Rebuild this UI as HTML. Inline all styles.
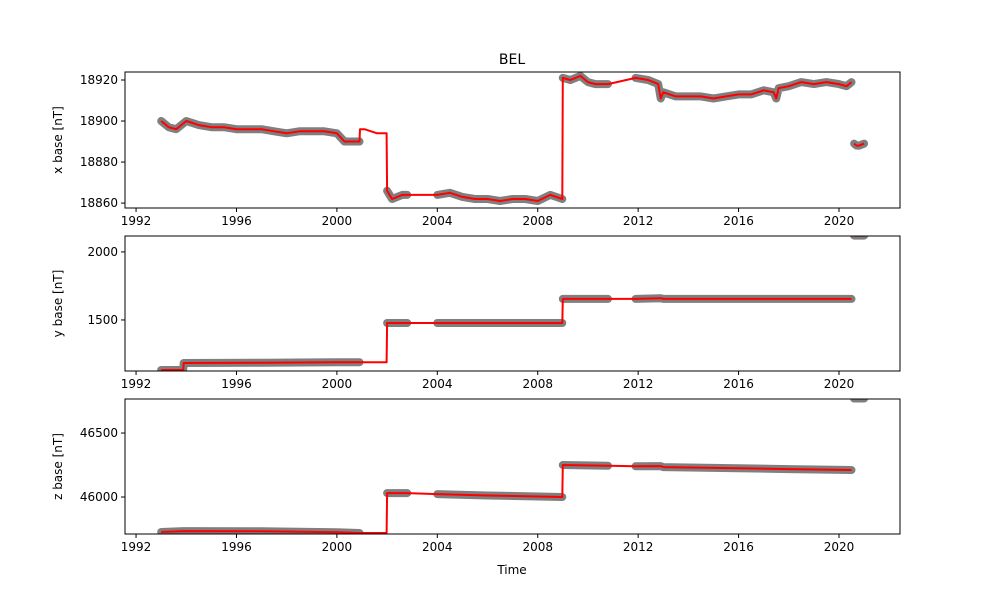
<!DOCTYPE html>
<html><head><meta charset="utf-8">
<style>
body{margin:0;background:#fff;}
svg{display:block;font-family:"DejaVu Sans","Liberation Sans",sans-serif;}
</style></head>
<body>
<svg id="fig" width="1000" height="600" viewBox="0 0 1000 600" xmlns="http://www.w3.org/2000/svg">
<rect width="1000" height="600" fill="#fff"/>
<text x="512" y="64" font-size="14" text-anchor="middle">BEL</text>
<text x="512" y="574" font-size="12" text-anchor="middle">Time</text>
</svg>
<script>
// shared x axis
const xTicks = [1992, 1996, 2000, 2004, 2008, 2012, 2016, 2020];
// Panel 1: x base
const xYears = [1993.0,1993.3,1993.6,1994.0,1994.5,1995.0,1995.5,1996.0,1996.5,1997.0,1997.5,1998.0,1998.5,1999.0,1999.5,2000.0,2000.3,2000.9,
  2000.92,2001.1,2001.6,2001.98,
  2002.0,2002.2,2002.6,2002.8,
  2004.0,2004.5,2005.0,2005.5,2006.0,2006.5,2007.0,2007.5,2008.0,2008.5,2008.98,
  2009.0,2009.3,2009.7,2010.0,2010.3,2010.8,
  2011.9,2012.4,2012.8,2012.9,2013.0,2013.5,2014.0,2014.5,2015.0,2015.5,2016.0,2016.5,2017.0,2017.4,2017.5,2017.6,2018.0,2018.5,2019.0,2019.5,2020.0,2020.3,2020.5,
  2020.6,2020.7,2020.8,2021.0];
const xVals = [18900,18897,18896,18900,18898,18897,18897,18896,18896,18896,18895,18894,18895,18895,18895,18894,18890,18890,
  18896,18896,18894,18894,
  18866,18862,18864,18864,
  18864,18865,18863,18862,18862,18861,18862,18862,18861,18864,18862,
  18921,18920,18922,18919,18918,18918,
  18921,18920,18918,18911,18914,18912,18912,18912,18911,18912,18913,18913,18915,18914,18911,18916,18917,18919,18918,18919,18918,18917,18919,
  18889,18888,18888,18889];
const xGray = [1,1,1,1,1,1,1,1,1,1,1,1,1,1,1,1,1,1, 0,0,0,0, 2,2,2,2, 3,3,3,3,3,3,3,3,3,3,3, 4,4,4,4,4,4,
  5,5,5,5,5,5,5,5,5,5,5,5,5,5,5,5,5,5,5,5,5,5,5, 6,6,6,6];
const xRed = [1,1,1,1,1,1,1,1,1,1,1,1,1,1,1,1,1,1, 1,1,1,1, 1,1,1,1, 1,1,1,1,1,1,1,1,1,1,1, 1,1,1,1,1,1,
  1,1,1,1,1,1,1,1,1,1,1,1,1,1,1,1,1,1,1,1,1,1,1, 2,2,2,2];
const xTickVals = [18860, 18880, 18900, 18920];
// Panel 2: y base
const yYears = [1993.0,1993.88,1993.9,1997.0,2000.0,2000.9,2001.98,2002.0,2002.8,2004.0,2008.98,2009.0,2010.8,2011.9,2012.9,2013.0,2020.5,2020.6,2021.0];
const yVals  = [1132,1132,1184,1186,1190,1190,1190,1478,1478,1478,1478,1655,1655,1655,1660,1655,1655,2120,2120];
const yGray  = [1,1,1,1,1,1,0,2,2,3,3,4,4,5,5,5,5,6,6];
const yRed   = [1,1,1,1,1,1,1,1,1,1,1,1,1,1,1,1,1,2,2];
const yTickVals = [1500, 2000];
// Panel 3: z base
const zYears = [1993.0,1993.9,1997.0,2000.0,2000.9,2001.98,2002.0,2002.8,2004.0,2006.0,2008.98,2009.0,2010.8,2011.9,2012.9,2013.0,2016.0,2018.0,2020.5,2020.6,2021.0];
const zVals  = [45727,45734,45732,45725,45719,45719,46031,46031,46023,46012,46000,46250,46245,46240,46242,46234,46225,46218,46211,46770,46770];
const zGray  = [1,1,1,1,1,0,2,2,3,3,3,4,4,5,5,5,5,5,5,6,6];
const zRed   = [1,1,1,1,1,1,1,1,1,1,1,1,1,1,1,1,1,1,1,2,2];
const zTickVals = [46000, 46500];

const NS = "http://www.w3.org/2000/svg";
const svg = document.getElementById('fig');
const X0 = 125, X1 = 900, YMIN = 1991.56, YMAX = 2022.43;
function xScale(t){ return X0 + (t - YMIN) / (YMAX - YMIN) * (X1 - X0); }
function mk(tag, attrs, parent){ const e = document.createElementNS(NS, tag); for (const k in attrs) e.setAttribute(k, attrs[k]); (parent||svg).appendChild(e); return e; }

function panel(name, top, bottom, lo, hi, years, vals, gray, red, ticks, label){
  const ys = v => bottom - (v - lo) / (hi - lo) * (bottom - top);
  const g = mk('g', {});
  
  
  const cid = 'clip-' + name;
  const cp = mk('clipPath', {id: cid}, g);
  mk('rect', {x: X0, y: top, width: X1 - X0, height: bottom - top}, cp);
  const plot = mk('g', {'clip-path': 'url(#' + cid + ')'}, g);
  let i = 0;
  while (i < years.length) {
    if (!gray[i]) { i++; continue; }
    let j = i; while (j + 1 < years.length && gray[j + 1] === gray[i]) j++;
    let pts = [];
    for (let k = i; k <= j; k++) pts.push(xScale(years[k]).toFixed(1) + ',' + ys(vals[k]).toFixed(1));
    if (i === j) pts.push((xScale(years[i]) + 0.1).toFixed(1) + ',' + ys(vals[i]).toFixed(1));
    const p = mk('polyline', {points: pts.join(' '), fill: 'none', stroke: '#7f7f7f', 'stroke-width': 8, 'stroke-linecap': 'round', 'stroke-linejoin': 'round'}, plot);
    
    
    i = j + 1;
  }
  i = 0;
  while (i < years.length) {
    let j = i; while (j + 1 < years.length && red[j + 1] === red[i]) j++;
    let pts = [];
    for (let k = i; k <= j; k++) pts.push(xScale(years[k]).toFixed(1) + ',' + ys(vals[k]).toFixed(1));
    const p = mk('polyline', {points: pts.join(' '), fill: 'none', stroke: '#ff0000', 'stroke-width': 2, 'stroke-linejoin': 'round'}, plot);
    
    
    i = j + 1;
  }
  const fr = mk('rect', {x: X0, y: top, width: X1 - X0, height: bottom - top, fill: 'none', stroke: '#000', 'stroke-width': 1}, g);
  
  
  xTicks.forEach(t => {
    const x = xScale(t);
    mk('line', {x1: x, x2: x, y1: bottom, y2: bottom + 4, stroke: '#000'}, g);
    const tx = mk('text', {x: x, y: bottom + 17, 'font-size': 12, 'text-anchor': 'middle'}, g);
    tx.textContent = t;
    
    
  });
  ticks.forEach(v => {
    const y = ys(v);
    mk('line', {x1: X0 - 4, x2: X0, y1: y, y2: y, stroke: '#000'}, g);
    const tx = mk('text', {x: X0 - 7, y: y + 4, 'font-size': 12, 'text-anchor': 'end'}, g);
    tx.textContent = v;
    
    
  });
  const yl = mk('text', {x: 0, y: 0, 'font-size': 12, 'text-anchor': 'middle', transform: 'translate(62,' + ((top + bottom) / 2) + ') rotate(-90)'}, g);
  yl.textContent = label;
  
  
}
panel('x-base', 72, 208, 18857.6, 18923.9, xYears, xVals, xGray, xRed, xTickVals, 'x base [nT]');
panel('y-base', 236, 371, 1125, 2117, yYears, yVals, yGray, yRed, yTickVals, 'y base [nT]');
panel('z-base', 399, 534, 45711, 46766, zYears, zVals, zGray, zRed, zTickVals, 'z base [nT]');
</script>
</body></html>
